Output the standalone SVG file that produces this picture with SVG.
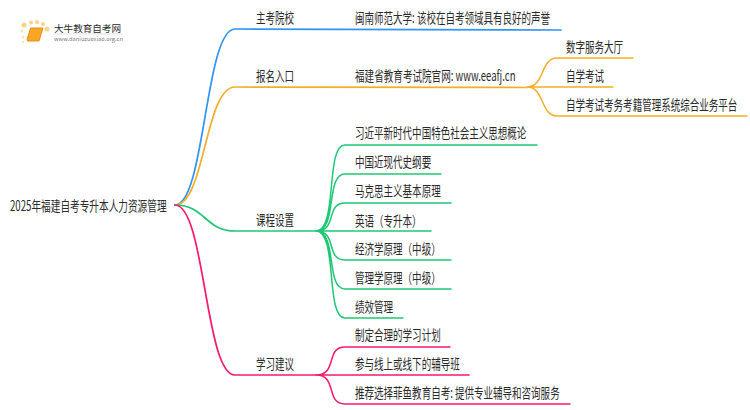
<svg xmlns="http://www.w3.org/2000/svg" width="750" height="410" viewBox="0 0 750 410">
<style>
text{font-family:"Noto Sans CJK SC","Liberation Sans",sans-serif;font-size:14px;fill:#2a2a2a}
path{fill:none;stroke-linecap:round}
.b{stroke:#2f95f5}.o{stroke:#f5ad27}.g{stroke:#1fc777}.p{stroke:#f7186f}
.t{stroke-width:1.7}.l{stroke-width:1.5}
</style>
<rect width="750" height="410" fill="#fff"/>
<g id="connectors">
<path class="b t" d="M175 205C205 205 205 29 235 29L561 30"/>
<path class="o t" d="M175 205C205 205 205 87 235 87L527 87.500"/>
<path class="g t" d="M175 205C205 205 205 231 235 231L316 231"/>
<path class="p t" d="M175 205C205 205 205 375 235 375L316 375"/>
<path class="o l" d="M527 87C545 87 540 58 557 58L633 58M527 87L613 87M527 87C545 87 540 116 557 116L747 116"/>
<path class="g l" d="M316 231C338 231 325 145 345 145L537 145M316 231C338 231 325 174 345 174L441 174M316 231C338 231 325 203 345 203L451 203M316 231L431 231M316 231C338 231 325 260 345 260L451 260M316 231C338 231 325 289 345 289L451 289M316 231C338 231 325 318 345 318L403 318"/>
<path class="p l" d="M316 375C338 375 325 347 345 347L450 347M316 375L469 375M316 375C338 375 325 404 345 404L570 404"/>
</g>
<g id="logo">
<circle cx="24" cy="25" r="2.500" fill="#fbd38a"/><circle cx="31" cy="22.500" r="2" fill="#fbd38a"/><circle cx="37" cy="22" r="2" fill="#fbd38a"/><circle cx="43" cy="24" r="2" fill="#fbd38a"/><circle cx="47" cy="29" r="2.500" fill="#fbd38a"/><circle cx="22" cy="31" r="1.500" fill="#fde4b8"/><circle cx="23" cy="37" r="1.500" fill="#fde4b8"/><circle cx="23" cy="42" r="1.200" fill="#fde4b8"/>
<path d="M31 28H43L39 41H28Z" style="fill:#f7a823;stroke:#f08d12"/>
<path d="M28 41L27 39L30.500 29" style="stroke:#f08d12"/>
<text x="54" y="32" style="font-size:9.500px" textLength="67" lengthAdjust="spacingAndGlyphs">大牛教育自考网</text>
<path d="M54 34H122" style="stroke:#ccc;stroke-width:.6"/>
<text x="54" y="41" style="font-size:5.500px;fill:#777" textLength="69" lengthAdjust="spacingAndGlyphs">www.daniuzuexiao.org.cn</text>
</g>
<g id="root"><text transform="translate(10 210.500) scale(.69 1)">2025年福建自考专升本人力资源管理</text></g>
<g id="n1"><text transform="translate(256 23) scale(.68 1)">主考院校</text></g>
<g id="n2"><text transform="translate(256 81) scale(.68 1)">报名入口</text></g>
<g id="n3"><text transform="translate(256 225) scale(.68 1)">课程设置</text></g>
<g id="n4"><text transform="translate(256 369) scale(.68 1)">学习建议</text></g>
<g id="n1a"><text transform="translate(355 23) scale(.68 1)">闽南师范大学: 该校在自考领域具有良好的声誉</text></g>
<g id="n2a"><text transform="translate(355 81) scale(.685 1)">福建省教育考试院官网: www.eeafj.cn</text></g>
<g id="n2a1"><text transform="translate(566 52) scale(.68 1)">数字服务大厅</text></g>
<g id="n2a2"><text transform="translate(566 81) scale(.68 1)">自学考试</text></g>
<g id="n2a3"><text transform="translate(566 110) scale(.68 1)">自学考试考务考籍管理系统综合业务平台</text></g>
<g id="n3a"><text transform="translate(355 138) scale(.68 1)">习近平新时代中国特色社会主义思想概论</text></g>
<g id="n3b"><text transform="translate(355 167) scale(.68 1)">中国近现代史纲要</text></g>
<g id="n3c"><text transform="translate(355 196) scale(.68 1)">马克思主义基本原理</text></g>
<g id="n3d"><text transform="translate(355 226) scale(.68 1)">英语（专升本）</text></g>
<g id="n3e"><text transform="translate(355 254) scale(.68 1)">经济学原理（中级）</text></g>
<g id="n3f"><text transform="translate(355 283) scale(.68 1)">管理学原理（中级）</text></g>
<g id="n3g"><text transform="translate(355 312) scale(.68 1)">绩效管理</text></g>
<g id="n4a"><text transform="translate(355 340) scale(.68 1)">制定合理的学习计划</text></g>
<g id="n4b"><text transform="translate(355 369) scale(.68 1)">参与线上或线下的辅导班</text></g>
<g id="n4c"><text transform="translate(355 398) scale(.68 1)">推荐选择菲鱼教育自考: 提供专业辅导和咨询服务</text></g>
</svg>
